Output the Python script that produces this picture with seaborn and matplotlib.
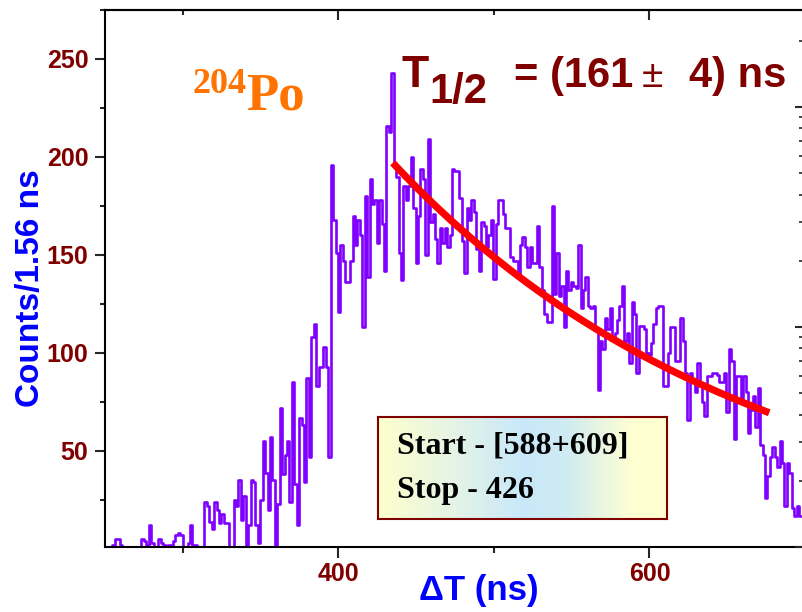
import numpy as np
import pandas as pd
import matplotlib
matplotlib.use("Agg")
import matplotlib.pyplot as plt
import seaborn as sns
from matplotlib.ticker import MultipleLocator, LogLocator, NullFormatter
from matplotlib.colors import LinearSegmentedColormap

# ---- time-difference spectrum (counts per 1.56 ns bin, starting at 250 ns) ----
BIN_START = 250.0
BIN_WIDTH = 1.56
counts = [
    0, 0, 0, 2, 5, 5, 2, 1, 1, 0,
    0, 0, 0, 0, 0, 5, 4, 2, 12, 3,
    0, 1, 5, 3, 2, 1, 2, 1, 4, 7,
    8, 7, 0, 1, 3, 12, 2, 2, 0, 0,
    0, 24, 22, 14, 10, 24, 20, 13, 18, 13,
    13, 0, 0, 25, 22, 35, 15, 27, 0, 12,
    35, 34, 12, 3, 25, 55, 39, 20, 57, 35,
    0, 23, 72, 38, 48, 55, 24, 85, 33, 12,
    67, 63, 34, 87, 47, 108, 115, 83, 93, 93,
    103, 93, 47, 196, 168, 151, 121, 155, 147, 136,
    136, 147, 170, 155, 168, 160, 113, 180, 139, 189,
    176, 178, 156, 178, 166, 142, 216, 213, 243, 197,
    190, 151, 137, 185, 178, 185, 200, 174, 146, 170,
    194, 189, 150, 209, 167, 171, 158, 146, 164, 156,
    164, 154, 160, 194, 193, 193, 179, 157, 141, 174,
    168, 178, 172, 153, 142, 167, 165, 154, 160, 168,
    138, 166, 178, 178, 171, 164, 164, 149, 147, 147,
    139, 155, 159, 154, 144, 154, 146, 146, 165, 144,
    132, 120, 116, 116, 175, 130, 151, 129, 134, 113,
    142, 132, 136, 134, 133, 155, 123, 132, 139, 124,
    123, 124, 112, 81, 106, 102, 118, 112, 123, 108,
    110, 117, 124, 134, 106, 110, 95, 126, 120, 90,
    114, 114, 112, 100, 99, 105, 115, 123, 124, 124,
    83, 83, 100, 113, 113, 96, 96, 118, 106, 90,
    66, 90, 86, 80, 95, 83, 75, 68, 88, 88,
    90, 90, 89, 85, 85, 90, 70, 102, 96, 56,
    88, 88, 77, 88, 80, 59, 71, 78, 62, 82,
    53, 48, 26, 37, 47, 52, 47, 42, 55, 44,
    22, 44, 39, 21, 17, 22, 17, 17,
]

# ---- exponential decay fit ----
half_life = 161          # ns
half_life_err = 4        # ns
fit_start = 435.0        # ns
fit_stop = 677.0         # ns
fit_amplitude = 197.0    # counts at fit_start

# ---- annotations ----
nucleus_mass = "204"
nucleus_symbol = "Po"
gate_lines = ["Start - [588+609]", "Stop - 426"]

# ---- styling ----
DARK_RED = "#800000"
VIOLET = "#8000FF"
BLUE = "#0000FF"
ORANGE = "#FF7300"

sns.set_style("ticks")
plt.rcParams["font.family"] = ["Liberation Sans", "DejaVu Sans"]
plt.rcParams["font.weight"] = "bold"
plt.rcParams["axes.labelweight"] = "bold"
plt.rcParams["axes.linewidth"] = 1.5

W, H = 803, 612
fig = plt.figure(figsize=(W / 100, H / 100), dpi=100)


def fx(px):
    return px / W


def fy(py):
    return 1 - py / H


ax = fig.add_axes([fx(105), fy(547), 700 / W, 537 / H])

n_bins = len(counts)
bin_stop = BIN_START + BIN_WIDTH * n_bins
centers = BIN_START + BIN_WIDTH * (np.arange(n_bins) + 0.5)
spec = pd.DataFrame({"dt": centers, "counts": counts})

sns.histplot(data=spec, x="dt", weights="counts",
             binwidth=BIN_WIDTH, binrange=(BIN_START, bin_stop),
             element="step", fill=False, color=VIOLET, linewidth=1.9, ax=ax)

t_fit = np.linspace(fit_start, fit_stop, 200)
n_fit = fit_amplitude * 2.0 ** (-(t_fit - fit_start) / half_life)
sns.lineplot(x=t_fit, y=n_fit, color="#FF0000", linewidth=5.2,
             solid_capstyle="butt", ax=ax)

ax.set_xlim(250, 700)
ax.set_ylim(1, 275)

ax.xaxis.set_major_locator(MultipleLocator(200))
ax.xaxis.set_minor_locator(MultipleLocator(100))
ax.yaxis.set_major_locator(MultipleLocator(50))
ax.yaxis.set_minor_locator(MultipleLocator(25))

ax.tick_params(axis="x", which="major", direction="out", length=8, width=1.5,
               labelsize=18, labelcolor=DARK_RED, pad=3)
ax.tick_params(axis="x", which="minor", direction="out", length=4.5, width=1.5)
ax.tick_params(axis="y", which="major", direction="out", length=7, width=1.5,
               labelsize=18, labelcolor=DARK_RED, pad=5)
ax.tick_params(axis="y", which="minor", direction="out", length=3.5, width=1.5)

for side in ["left", "bottom", "top"]:
    ax.spines[side].set_visible(True)
    ax.spines[side].set_linewidth(1.5)
    ax.spines[side].set_color("black")

ax.set_xlabel("ΔT (ns)", fontsize=25, fontweight="bold", color=BLUE)
ax.xaxis.set_label_coords((479 - 105) / 700, -0.05)
ax.set_ylabel("Counts/1.56 ns", fontsize=24, fontweight="bold", color=BLUE)
ax.yaxis.set_label_coords(-0.084, 0.482)

# top axis: inward ticks, no labels
top = ax.secondary_xaxis("top")
top.xaxis.set_major_locator(MultipleLocator(200))
top.xaxis.set_minor_locator(MultipleLocator(100))
top.tick_params(which="major", direction="in", length=7, width=1.5, labeltop=False)
top.tick_params(which="minor", direction="in", length=3.5, width=1.5)
top.spines["top"].set_linewidth(1.5)

# right axis: logarithmic counts scale, inward ticks, no labels
right = ax.twinx()
right.set_yscale("log")
right.set_ylim(1, 276)
right.yaxis.set_major_locator(LogLocator(base=10))
right.yaxis.set_minor_locator(LogLocator(base=10, subs=np.arange(2, 10)))
right.yaxis.set_major_formatter(NullFormatter())
right.yaxis.set_minor_formatter(NullFormatter())
right.tick_params(which="major", direction="in", length=7, width=1.5)
right.tick_params(which="minor", direction="in", length=4, width=1.2)
for side in ["left", "bottom", "top"]:
    right.spines[side].set_visible(False)

# half-life label
fig.text(fx(402), fy(87), "T", fontsize=32, color=DARK_RED, ha="left", va="baseline")
fig.text(fx(429), fy(103), "1/2", fontsize=30, color=DARK_RED, ha="left", va="baseline")
fig.text(fx(514), fy(87), f"= ({half_life}", fontsize=30,
         color=DARK_RED, ha="left", va="baseline")
fig.text(fx(642), fy(87), "±", fontsize=28, fontweight="normal",
         color=DARK_RED, ha="left", va="baseline")
fig.text(fx(689), fy(87), f"{half_life_err}) ns", fontsize=30,
         color=DARK_RED, ha="left", va="baseline")

# nucleus label
serif = ["Liberation Serif", "DejaVu Serif"]
fig.text(fx(193), fy(93), nucleus_mass, fontsize=26, color=ORANGE,
         family=serif, ha="left", va="baseline")
fig.text(fx(246), fy(110), nucleus_symbol, fontsize=38, color=ORANGE,
         family=serif, ha="left", va="baseline")

# gate information box with horizontal colour gradient
box = fig.add_axes([fx(378), fy(519), (667 - 378) / W, (519 - 417) / H])
grad = LinearSegmentedColormap.from_list(
    "gate", [(0.0, "#FFFFCC"), (0.25, "#E6F4E4"), (0.5, "#C8E8FA"),
             (0.65, "#CFEBF2"), (0.88, "#FFFFD2"), (1.0, "#FFFFD2")])
box.imshow(np.linspace(0, 1, 256)[None, :], cmap=grad, aspect="auto",
           extent=[0, 1, 0, 1])
box.set_xticks([])
box.set_yticks([])
for s in box.spines.values():
    s.set_visible(True)
    s.set_color(DARK_RED)
    s.set_linewidth(1.5)

fig.text(fx(397), fy(453), gate_lines[0], fontsize=23, color="black",
         family=serif, ha="left", va="baseline", zorder=5)
fig.text(fx(397), fy(498), gate_lines[1], fontsize=23, color="black",
         family=serif, ha="left", va="baseline", zorder=5)

fig.savefig("out.png", dpi=100)
